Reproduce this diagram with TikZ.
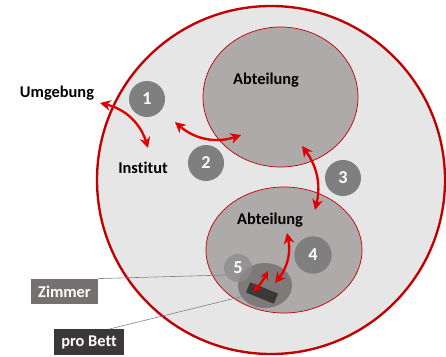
\documentclass[tikz,border=0pt]{standalone}
\usepackage{fontspec}
\setmainfont{Carlito}[Ligatures=NoCommon]
\usepackage{tikz}
\usetikzlibrary{arrows.meta, positioning, shapes.geometric}
\definecolor{darkred}{HTML}{C00000}
\definecolor{flowred}{HTML}{E00000}
\definecolor{lightbg}{HTML}{E7E6E6}
\definecolor{midgray}{HTML}{AEAAAA}
\definecolor{roomgray}{HTML}{767171}
\definecolor{bedgray}{HTML}{3A3838}
\definecolor{numgray}{HTML}{7F7F7F}

\begin{document}
\begin{tikzpicture}[
    x=0.03cm, y=-0.03cm,
    every node/.style={font=\fontsize{14}{16}\selectfont\bfseries},
    area/.style={ellipse, draw=darkred, fill=midgray, line width=0.6pt, inner sep=0},
    num/.style={circle, fill=numgray, text=white, minimum size=1.08cm, inner sep=0, font=\fontsize{15.5}{17}\selectfont\bfseries},
    tag/.style={rectangle, text=white, inner sep=0, minimum height=0.76cm},
    flow/.style={{Stealth[length=3.2mm,width=3.2mm]}-{Stealth[length=3.2mm,width=3.2mm]}, line width=2pt, color=flowred},
    lead/.style={draw=gray, line width=0.5pt}
]
\useasboundingbox (0,0) rectangle (446,356);

% Institut and Abteilungen
\node[ellipse, draw=darkred, fill=lightbg, line width=2pt, minimum width=10.44cm, minimum height=10.44cm] (inst) at (271,180) {};
\node[area, minimum width=4.65cm, minimum height=4.2cm] (abt1) at (280.5,97) {};
\node[area, minimum width=4.68cm, minimum height=3.78cm] (abt2) at (284,250) {};

% Zimmer and Bett
\node[ellipse, fill=roomgray!85!midgray, minimum width=1.62cm, minimum height=1.35cm, inner sep=0] (room) at (265,285.5) {};
\node[rectangle, fill=bedgray, minimum width=0.9cm, minimum height=0.33cm, inner sep=0, rotate=-22] (bed) at (262,293) {};

% Numbers
\node[num] (n1) at (147,99) {1};
\node[num] (n2) at (206,163) {2};
\node[num] (n3) at (343,178) {3};
\node[num, minimum size=1.12cm] (n4) at (313,255) {4};
\node[num, minimum size=0.84cm, fill opacity=0.75, text opacity=1, fill=numgray!90!white] (n5) at (238,268) {5};

% Labels
\node (lumg) at (57,93) {Umgebung};
\node (linst) at (143,168) {Institut};
\node (labt1) at (266,80) {Abteilung};
\node (labt2) at (270,220) {Abteilung};
\node[tag, fill=roomgray, minimum width=2.01cm] (lroom) at (64.5,291.5) {Zimmer};
\node[tag, fill=bedgray, minimum width=2.1cm] (lbed) at (89,342) {pro Bett};

% Leader lines
\coordinate (r5) at (226,275);
\coordinate (b5) at (248,295);
\draw[lead] (lroom.north east) -- (r5);
\draw[lead] ([xshift=0.6cm]lbed.north) -- (b5);

% Flows
\coordinate (a1s) at (100,103);
\coordinate (a1e) at (148,148);
\coordinate (a2s) at (175,122);
\coordinate (a2e) at (241,135);
\coordinate (a3s) at (302,146);
\coordinate (a3e) at (315,210);
\coordinate (a4s) at (287,233);
\coordinate (a4e) at (275,283);
\coordinate (a5s) at (268,271);
\coordinate (a5e) at (253,292);
\draw[flow] (a1s) to[bend left=30] (a1e);
\draw[flow] (a2s) to[bend right=30] (a2e);
\draw[flow] (a3s) to[bend left=25] (a3e);
\draw[flow] (a4s) to[bend left=25] (a4e);
\draw[flow, {Stealth[length=2.6mm,width=2.6mm]}-{Stealth[length=2.6mm,width=2.6mm]}] (a5s) to[bend left=8] (a5e);
\end{tikzpicture}
\end{document}
